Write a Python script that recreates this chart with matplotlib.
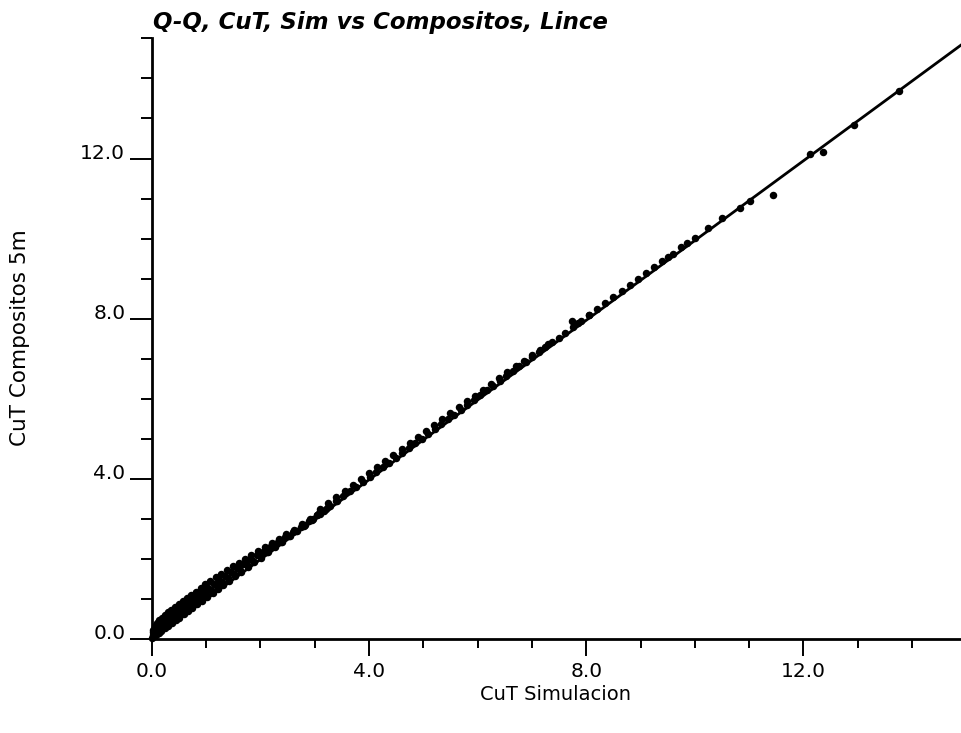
import matplotlib
matplotlib.use("Agg")
import matplotlib.pyplot as plt
from matplotlib.ticker import MultipleLocator, FixedLocator

# ---- data ----
title = "Q-Q, CuT, Sim vs Compositos, Lince"
xlabel = "CuT Simulacion"
ylabel = "CuT Compositos 5m"
major_ticks = [0.0, 4.0, 8.0, 12.0]
tick_labels = ["0.0", "4.0", "8.0", "12.0"]

# Q-Q curves of several realizations (low grades: visible as a band)
low_a_x = [0.00, 0.04, 0.08, 0.13, 0.18, 0.24, 0.30, 0.37, 0.44, 0.51, 0.59, 0.67, 0.75, 0.84,
           0.93, 1.02, 1.12, 1.22, 1.32, 1.43, 1.54, 1.65, 1.77, 1.89, 2.01, 2.14, 2.27, 2.40,
           2.54, 2.68, 2.82, 2.97]
low_a_y = [0.02, 0.07, 0.11, 0.16, 0.21, 0.27, 0.33, 0.40, 0.47, 0.54, 0.62, 0.70, 0.78, 0.87,
           0.96, 1.05, 1.15, 1.25, 1.35, 1.46, 1.57, 1.68, 1.80, 1.92, 2.04, 2.17, 2.30, 2.43,
           2.57, 2.71, 2.85, 3.00]
low_b_x = [0.02, 0.06, 0.11, 0.16, 0.22, 0.28, 0.35, 0.42, 0.49, 0.57, 0.65, 0.73, 0.82, 0.91,
           1.00, 1.10, 1.20, 1.30, 1.41, 1.52, 1.63, 1.75, 1.87, 1.99, 2.12, 2.25, 2.38, 2.52,
           2.66, 2.80, 2.95, 3.10]
low_b_y = [0.10, 0.16, 0.22, 0.28, 0.34, 0.41, 0.48, 0.55, 0.62, 0.70, 0.78, 0.86, 0.95, 1.04,
           1.13, 1.23, 1.33, 1.42, 1.53, 1.63, 1.74, 1.85, 1.96, 2.07, 2.19, 2.32, 2.44, 2.57,
           2.70, 2.83, 2.98, 3.12]
low_c_x = [0.03, 0.07, 0.12, 0.17, 0.23, 0.29, 0.36, 0.43, 0.51, 0.59, 0.67, 0.76, 0.85, 0.94,
           1.04, 1.14, 1.24, 1.35, 1.46, 1.57, 1.69, 1.81, 1.93, 2.06, 2.19, 2.32, 2.46, 2.60,
           2.74, 2.89, 3.04, 3.20]
low_c_y = [0.18, 0.24, 0.32, 0.39, 0.47, 0.54, 0.61, 0.68, 0.76, 0.84, 0.92, 1.01, 1.10, 1.19,
           1.29, 1.39, 1.48, 1.58, 1.68, 1.78, 1.89, 2.00, 2.10, 2.21, 2.33, 2.44, 2.56, 2.69,
           2.81, 2.95, 3.09, 3.24]
low_d_x = [0.03, 0.06, 0.10, 0.14, 0.19, 0.24, 0.30, 0.36, 0.43, 0.50, 0.57, 0.65, 0.73, 0.81,
           0.90, 0.99, 1.08, 1.18, 1.28, 1.38, 1.49, 1.60, 1.71, 1.83, 1.95, 2.08, 2.21, 2.34,
           2.48, 2.62, 2.77, 2.92, 3.08, 3.24, 3.40]
low_d_y = [0.22, 0.32, 0.40, 0.47, 0.54, 0.60, 0.67, 0.74, 0.81, 0.88, 0.95, 1.03, 1.11, 1.19,
           1.28, 1.37, 1.46, 1.55, 1.64, 1.73, 1.82, 1.91, 2.00, 2.10, 2.20, 2.30, 2.41, 2.51,
           2.62, 2.73, 2.87, 3.01, 3.16, 3.31, 3.46]

# middle grades
mid_a_x = [3.05, 3.17, 3.29, 3.41, 3.53, 3.65, 3.77, 3.89, 4.01, 4.13, 4.25, 4.37, 4.49, 4.61,
           4.73, 4.85, 4.97, 5.09, 5.21, 5.33, 5.45, 5.57, 5.69, 5.81, 5.93, 6.05, 6.17, 6.29,
           6.41, 6.53, 6.65, 6.77, 6.89, 7.01, 7.13, 7.25, 7.37, 7.49, 7.61, 7.75, 7.90, 8.05]
mid_a_y = [3.09, 3.21, 3.33, 3.45, 3.57, 3.69, 3.81, 3.93, 4.05, 4.17, 4.29, 4.41, 4.53, 4.65,
           4.77, 4.89, 5.01, 5.13, 5.25, 5.37, 5.49, 5.61, 5.73, 5.85, 5.97, 6.09, 6.21, 6.33,
           6.45, 6.57, 6.69, 6.81, 6.93, 7.05, 7.17, 7.29, 7.41, 7.53, 7.65, 7.79, 7.94, 8.09]
mid_b_x = [3.10, 3.25, 3.40, 3.55, 3.70, 3.85, 4.00, 4.15, 4.30, 4.45, 4.60, 4.75, 4.90, 5.05,
           5.20, 5.35, 5.50, 5.65, 5.80, 5.95, 6.10, 6.25, 6.40, 6.55, 6.70, 6.85, 7.00, 7.15,
           7.30]
mid_b_y = [3.25, 3.40, 3.55, 3.70, 3.85, 4.00, 4.15, 4.30, 4.45, 4.60, 4.75, 4.90, 5.04, 5.19,
           5.34, 5.49, 5.64, 5.79, 5.94, 6.08, 6.23, 6.38, 6.52, 6.67, 6.81, 6.95, 7.09, 7.23,
           7.38]

# high grades (sparse tail)
high_x = [7.73, 7.85, 8.05, 8.2, 8.35, 8.5, 8.65, 8.8, 8.95, 9.1, 9.25, 9.4, 9.5, 9.6, 9.75,
          9.85, 10.0, 10.25, 10.5, 10.83, 11.02, 11.43, 12.12, 12.36, 12.93, 13.75]
high_y = [7.94, 7.90, 8.10, 8.24, 8.39, 8.54, 8.69, 8.84, 8.99, 9.13, 9.28, 9.43, 9.53, 9.62,
          9.78, 9.88, 10.02, 10.26, 10.51, 10.77, 10.94, 11.09, 12.10, 12.16, 12.83, 13.68]

ref_line_x = [0.0, 15.0]
ref_line_y = [0.0, 14.93]

series = [(low_a_x, low_a_y), (low_b_x, low_b_y), (low_c_x, low_c_y), (low_d_x, low_d_y),
          (mid_a_x, mid_a_y), (mid_b_x, mid_b_y), (high_x, high_y)]

# ---- figure ----
W, H = 961, 733
fig = plt.figure(figsize=(W / 100, H / 100), dpi=100)
left = 151.7 / W
bottom = 1 - 639.3 / H
top = 1 - 38.3 / H
ax = fig.add_axes([left, bottom, 1 - left, top - bottom])

ax.plot(ref_line_x, ref_line_y, color="black", lw=2.0, solid_capstyle="butt", zorder=2)
for xs, ys in series:
    ax.plot(xs, ys, linestyle="none", marker="o", ms=5.4, color="black", mew=0,
            clip_on=False, zorder=3)

ax.set_xlim(0, 14.9)
ax.set_ylim(0, 15)

for s in ("top", "right"):
    ax.spines[s].set_visible(False)
for s in ("left", "bottom"):
    ax.spines[s].set_linewidth(2.0)

ax.xaxis.set_major_locator(FixedLocator(major_ticks))
ax.yaxis.set_major_locator(FixedLocator(major_ticks))
ax.xaxis.set_minor_locator(MultipleLocator(1.0))
ax.yaxis.set_minor_locator(MultipleLocator(1.0))
ax.set_xticklabels(tick_labels)
ax.set_yticklabels(tick_labels)

ax.tick_params(axis="x", which="major", length=12, width=1.4, direction="out", pad=4.5)
ax.tick_params(axis="x", which="minor", length=6.5, width=1.4, direction="out")
ax.tick_params(axis="y", which="major", length=15.5, width=1.4, direction="out", pad=3.5)
ax.tick_params(axis="y", which="minor", length=8, width=1.4, direction="out")
for lab in ax.get_xticklabels() + ax.get_yticklabels():
    lab.set_fontfamily("DejaVu Sans")
    lab.set_fontsize(14.5)
for lab in ax.get_yticklabels():
    lab.set_verticalalignment("baseline")

fig.text(555 / W, 1 - 695 / H, xlabel, ha="center", va="center",
         family="DejaVu Sans", fontsize=14)
fig.text(20 / W, 1 - 338 / H, ylabel, ha="center", va="center", rotation=90,
         family="DejaVu Sans", fontsize=15.5)
fig.text(153 / W, 1 - 29 / H, title, ha="left", va="baseline",
         family="DejaVu Sans", fontweight="bold", fontstyle="oblique", fontsize=16.5)

fig.savefig("out.png", dpi=100)
